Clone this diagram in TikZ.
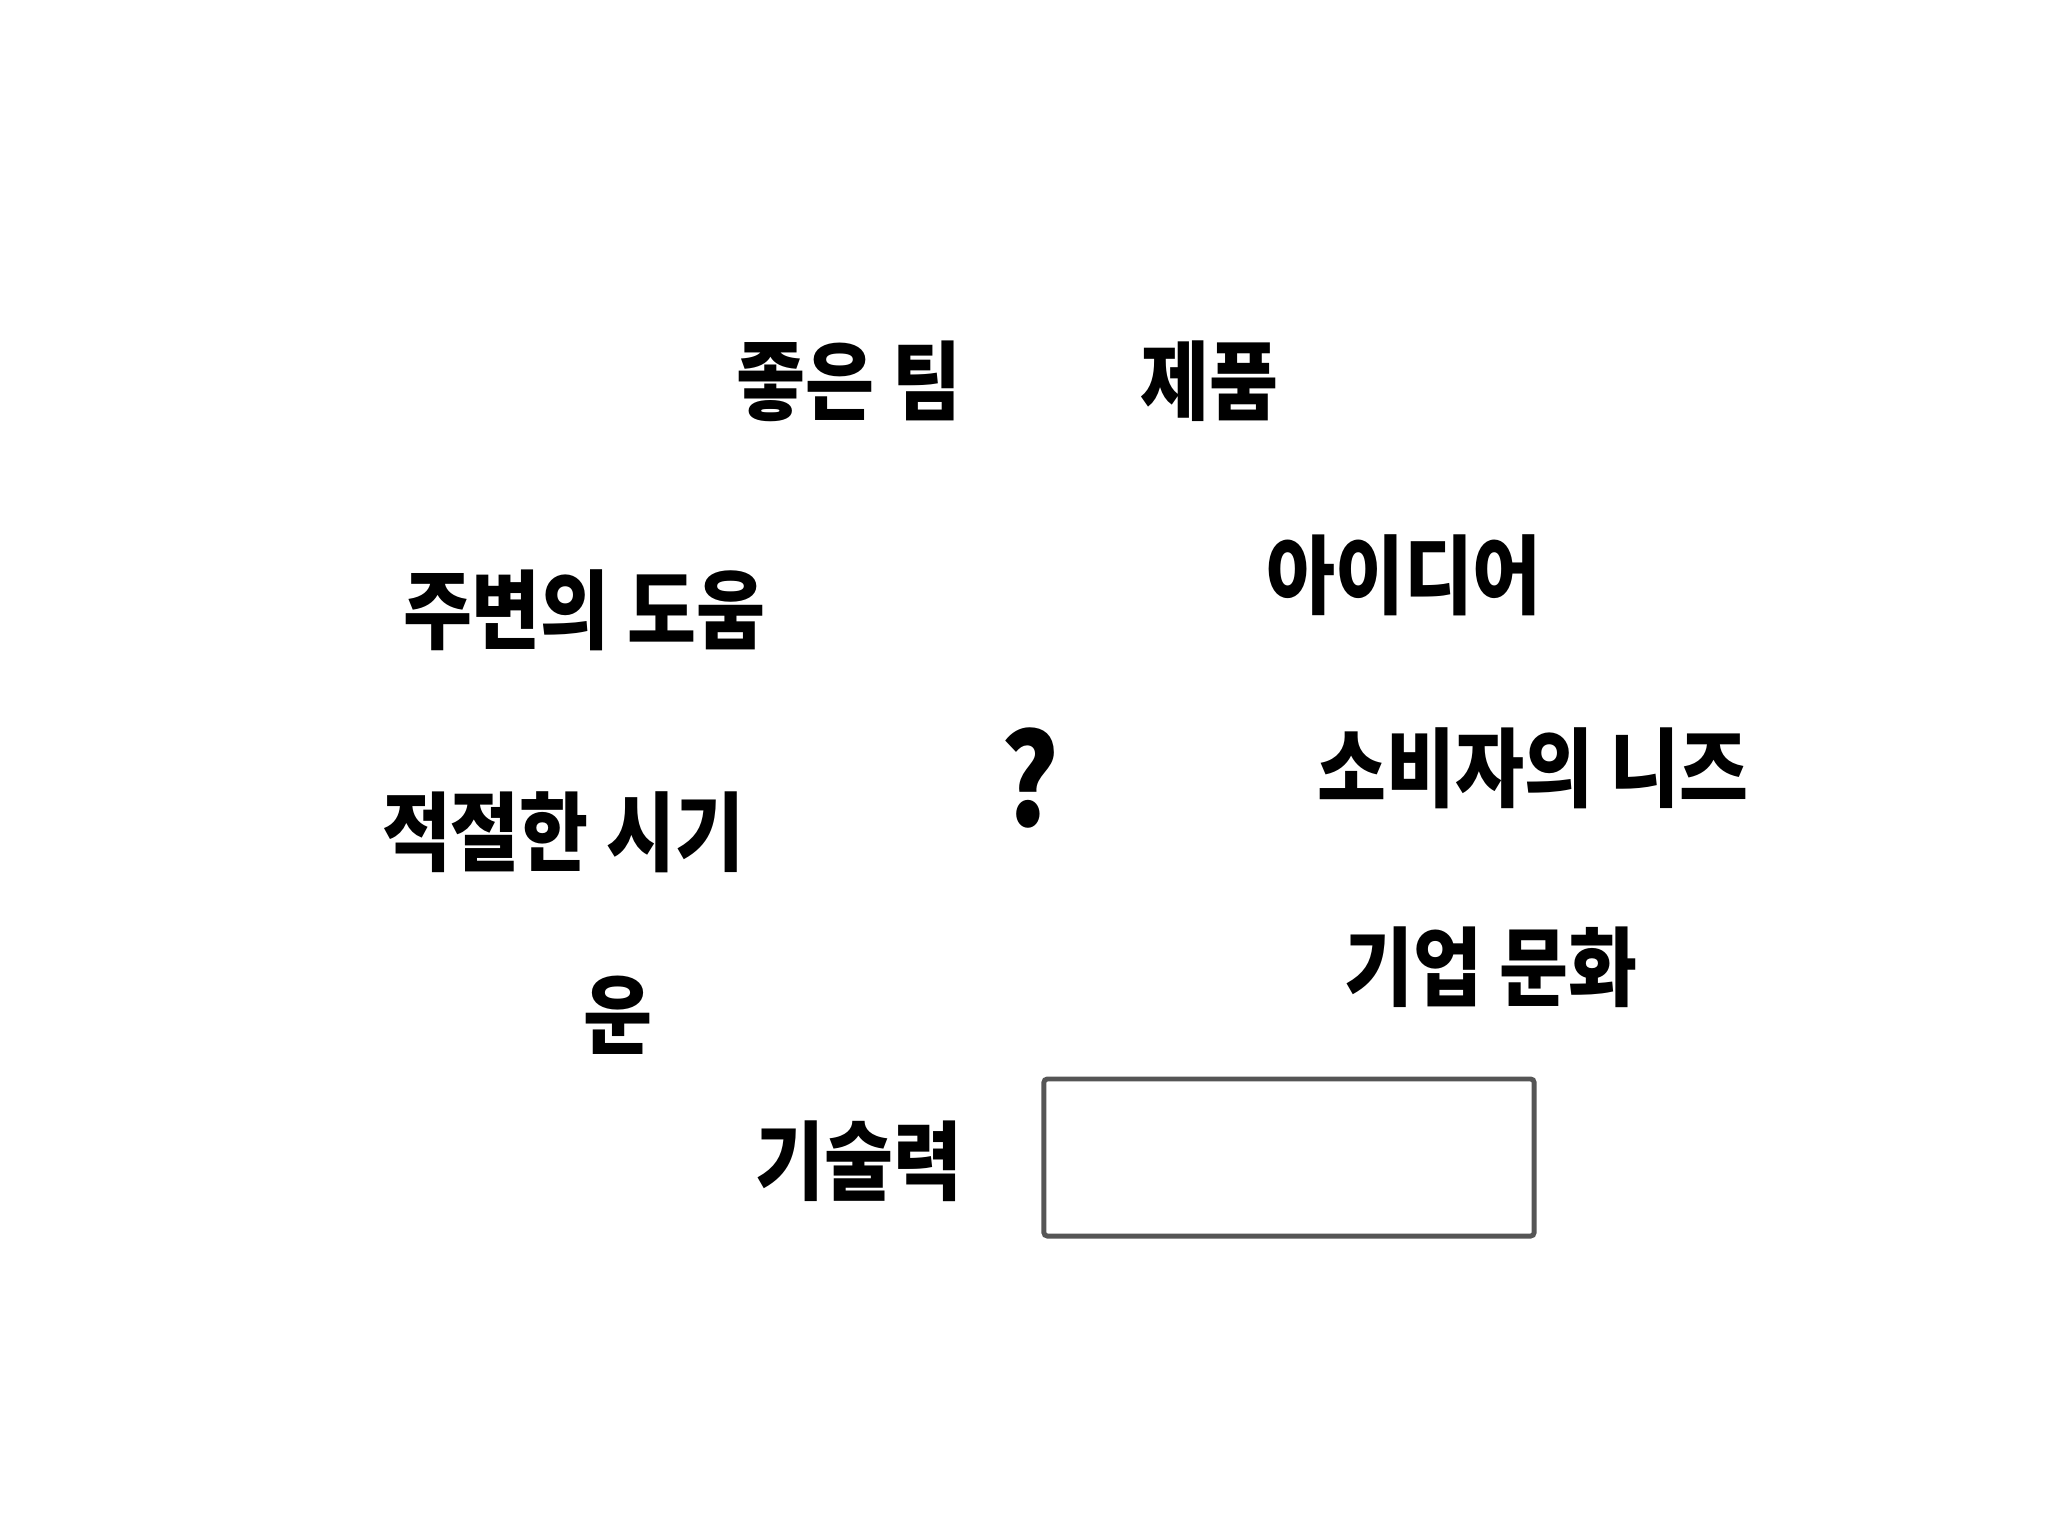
\documentclass[tikz,border=0pt]{standalone}
\usepackage{fontspec}
\newfontfamily\cjk[FakeStretch=0.87]{Noto Sans CJK KR}
\definecolor{boxgray}{HTML}{555555}
\begin{document}
\begin{tikzpicture}[x=0.01cm,y=-0.01cm,
  word/.style={font=\cjk\bfseries\fontsize{24.5pt}{28pt}\selectfont, inner sep=0pt, anchor=center},
  qmark/.style={font=\cjk\bfseries\fontsize{36pt}{40pt}\selectfont, inner sep=0pt, anchor=center},
  blank/.style={draw=boxgray, line width=1.4pt, rounded corners=1pt, inner sep=0pt}]
\useasboundingbox (0,0) rectangle (2048,1536);
\node[word] (t1) at (849,381) {좋은 팀};
\node[word] (t2) at (1209,381) {제품};
\node[word] (t3) at (1404,575) {아이디어};
\node[word] (t4) at (584,610) {주변의 도움};
\node[qmark] (q) at (1030,778) {?};
\node[word] (t5) at (1533,768) {소비자의 니즈};
\node[word] (t6) at (563,832) {적절한 시기};
\node[word] (t7) at (1491,967) {기업 문화};
\node[word] (t8) at (618,1015) {운};
\node[word] (t9) at (859,1161) {기술력};
\node[blank, minimum width=4.9cm, minimum height=1.57cm] (box) at (1289,1157.5) {};
\end{tikzpicture}
\end{document}
